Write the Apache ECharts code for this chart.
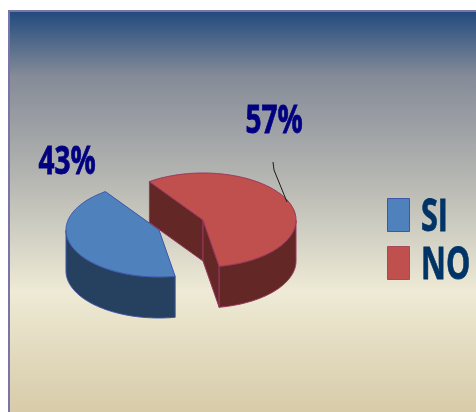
<!DOCTYPE html>
<html>
<head>
<meta charset="utf-8">
<style>html,body{margin:0;padding:0;background:#fff}#chart{width:476px;height:412px}</style>
<script src="https://cdn.jsdelivr.net/npm/echarts@6/dist/echarts.min.js"></script>
</head>
<body>
<div id="chart"></div>
<script>
// Survey answers, in percent
const categories = ['SI', 'NO'];
const shares = [43, 57];

// Pie drawn as tilted, extruded slices
const RX = 93, RY = 47, DEPTH = 41;
const START = 80 * Math.PI / 180;
const total = shares.reduce((a, b) => a + b, 0);
const sliceStyles = [
  { top: '#4F81BD', wall: '#26405F', edge: '#3F55A8', cx: 159, cy: 230, lx: 67, ly: 163 },
  { top: '#C0504D', wall: '#632725', edge: '#98375F', cx: 203, cy: 220, lx: 274, ly: 122 }
];

function rimPoint(s, t, drop) {
  return [s.cx + RX * Math.cos(t), s.cy + RY * Math.sin(t) + (drop || 0)];
}

function renderSlice(index) {
  return function (params, api) {
    const s = sliceStyles[index];
    const before = shares.slice(0, index).reduce((a, b) => a + b, 0);
    const t0 = START + before / total * Math.PI * 2;
    const t1 = t0 + api.value(0) / total * Math.PI * 2;
    const children = [];
    const face = (points) => children.push({
      type: 'polygon',
      shape: { points },
      style: { fill: s.wall, stroke: s.edge, lineWidth: 1 }
    });

    // cut faces, only those turned towards the viewer
    [[t0, t0 - Math.PI / 2], [t1, t1 + Math.PI / 2]].forEach(([t, normal]) => {
      if (Math.sin(normal) > 0) {
        const rim = rimPoint(s, t);
        face([[s.cx, s.cy], rim, [rim[0], rim[1] + DEPTH], [s.cx, s.cy + DEPTH]]);
      }
    });

    // outer wall along the near half of the rim
    let run = [];
    const flush = () => {
      if (run.length > 1) {
        const lower = run.slice().reverse().map(t => rimPoint(s, t, DEPTH));
        face(run.map(t => rimPoint(s, t)).concat(lower));
      }
      run = [];
    };
    const STEPS = 160;
    for (let i = 0; i <= STEPS; i++) {
      const t = t0 + (t1 - t0) * i / STEPS;
      if (Math.sin(t) >= 0) run.push(t); else flush();
    }
    flush();

    // top surface
    const top = [[s.cx, s.cy]];
    for (let i = 0; i <= STEPS; i++) top.push(rimPoint(s, t0 + (t1 - t0) * i / STEPS));
    children.push({
      type: 'polygon',
      shape: { points: top },
      style: { fill: s.top, stroke: s.edge, lineWidth: 1 }
    });

    // percentage label
    children.push({
      type: 'text',
      x: s.lx, y: s.ly,
      scaleX: 0.7,
      style: {
        text: api.value(0) + '%',
        fill: '#000080',
        stroke: '#000080',
        lineWidth: 0.8,
        font: 'bold 40px "Open Sans"',
        textAlign: 'center',
        textVerticalAlign: 'middle'
      }
    });
    return { type: 'group', children };
  };
}

const chart = echarts.init(document.getElementById('chart'), null, { renderer: 'canvas' });
chart.setOption({
  animation: false,
  backgroundColor: '#FFFFFF',
  graphic: [
    {
      type: 'rect', z: -10, silent: true,
      shape: { x: 9, y: 11, width: 480, height: 412 },
      style: {
        fill: new echarts.graphic.LinearGradient(0, 0, 0, 1, [
          { offset: 0, color: '#1F497D' },
          { offset: 0.16, color: '#858B98' },
          { offset: 0.4, color: '#B4B5B1' },
          { offset: 0.68, color: '#EEEAD5' },
          { offset: 1, color: '#D5C8A5' }
        ]),
        stroke: '#7B74A8', lineWidth: 2
      }
    },
    {
      type: 'polyline', silent: true, z: 5,
      shape: { points: [[273, 162], [274, 170], [287, 202]] },
      style: { stroke: '#1A1A1A', lineWidth: 1, fill: null }
    },
    {
      type: 'rect', silent: true, z: 5,
      shape: { x: 387.5, y: 198.5, width: 22, height: 33 },
      style: { fill: '#4F81BD', stroke: '#3F55A8', lineWidth: 1 }
    },
    {
      type: 'rect', silent: true, z: 5,
      shape: { x: 387.5, y: 246.5, width: 22, height: 33 },
      style: { fill: '#C0504D', stroke: '#A8485F', lineWidth: 1 }
    }
  ].concat(categories.map((name, i) => ({
    type: 'text', silent: true, z: 5,
    x: 421, y: 218 + i * 48, scaleX: 0.68,
    style: {
      text: name,
      fill: '#003366',
      stroke: '#003366',
      lineWidth: 0.8,
      font: 'bold 45px "Open Sans"',
      textVerticalAlign: 'middle'
    }
  }))),
  series: categories.map((name, i) => ({
    type: 'custom',
    name,
    coordinateSystem: 'none',
    data: [[shares[i]]],
    renderItem: renderSlice(i)
  }))
});
</script>
</body>
</html>
